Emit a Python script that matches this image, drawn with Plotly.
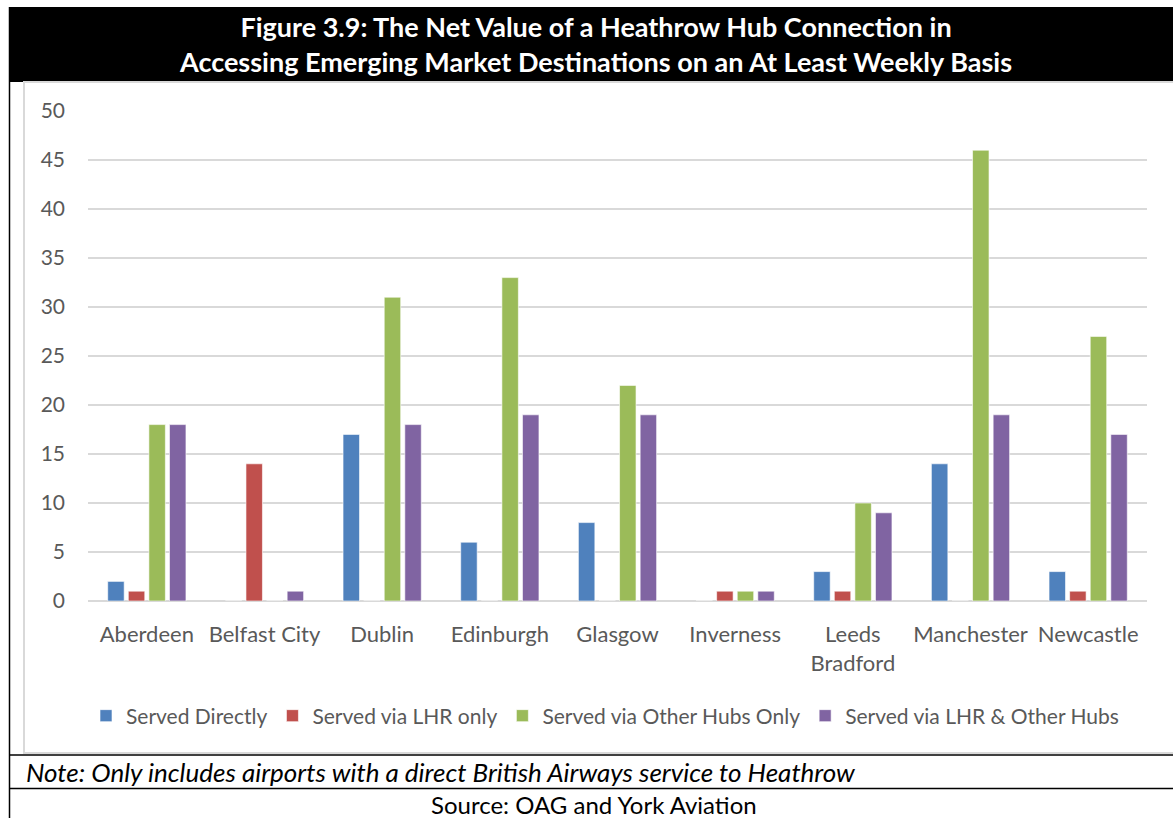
import plotly.graph_objects as go

W, H = 1173, 818

airports = ["Aberdeen", "Belfast City", "Dublin", "Edinburgh", "Glasgow",
            "Inverness", "Leeds<br>Bradford", "Manchester", "Newcastle"]
served_directly = [2, 0, 17, 6, 8, 0, 3, 14, 3]
served_lhr_only = [1, 14, 0, 0, 0, 1, 1, 0, 1]
served_other_hubs = [18, 0, 31, 33, 22, 1, 10, 46, 27]
served_lhr_and_other = [18, 1, 18, 19, 19, 1, 9, 19, 17]

series = [
    ("Served Directly", served_directly, "#4F81BD"),
    ("Served via LHR only", served_lhr_only, "#C0504D"),
    ("Served via Other Hubs Only", served_other_hubs, "#9BBB59"),
    ("Served via LHR & Other Hubs", served_lhr_and_other, "#8064A2"),
]

title_lines = ["Figure 3.9: The Net Value of a Heathrow Hub Connection in",
               "Accessing Emerging Market Destinations on an At Least Weekly Basis"]
note_text = "Note: Only includes airports with a direct British Airways service to Heathrow"
source_text = "Source: OAG and York Aviation"

FONT = "Lato"
GREY = "#595959"


def px(x):
    return x / W


def py(y):
    return 1 - y / H


fig = go.Figure()
for name, vals, col in series:
    fig.add_trace(go.Bar(
        x=airports, y=vals, name=name,
        marker=dict(color=col, line=dict(color="rgba(255,255,255,0.6)", width=1)),
    ))

shapes = [
    # title bar
    dict(type="rect", xref="paper", yref="paper", x0=px(9), x1=1.0,
         y0=py(82), y1=py(7), fillcolor="black", line=dict(width=0), layer="below"),
    # chart frame (light grey)
    dict(type="rect", xref="paper", yref="paper", x0=px(24), x1=px(1180),
         y0=py(753), y1=py(82), fillcolor="rgba(0,0,0,0)",
         line=dict(color="#D9D9D9", width=2), layer="below"),
    # outer left border
    dict(type="line", xref="paper", yref="paper", x0=px(9.5), x1=px(9.5),
         y0=py(7), y1=0, line=dict(color="black", width=1.5)),
    # note row separators
    dict(type="line", xref="paper", yref="paper", x0=px(9), x1=1.0,
         y0=py(755), y1=py(755), line=dict(color="black", width=1.5)),
    dict(type="line", xref="paper", yref="paper", x0=px(9), x1=1.0,
         y0=py(788.5), y1=py(788.5), line=dict(color="black", width=1.5)),
]

annotations = [
    dict(text="<b>" + "<br>".join(title_lines) + "</b>", xref="paper", yref="paper",
         x=px(595), y=py(44), xanchor="center", yanchor="middle", showarrow=False,
         font=dict(family=FONT, size=27, color="white"), align="center"),
    dict(text="<i>" + note_text + "</i>", xref="paper", yref="paper",
         x=px(24), y=py(772), xanchor="left", yanchor="middle", showarrow=False,
         font=dict(family=FONT, size=26, color="black")),
    dict(text=source_text, xref="paper", yref="paper",
         x=px(594), y=py(804), xanchor="center", yanchor="middle", showarrow=False,
         font=dict(family=FONT, size=24, color="black")),
]

fig.update_layout(
    width=W, height=H, autosize=False,
    margin=dict(l=0, r=0, t=0, b=0, pad=0, autoexpand=False),
    paper_bgcolor="white", plot_bgcolor="white",
    barmode="group", bargap=0.3, bargroupgap=0.2,
    font=dict(family=FONT, color=GREY),
    shapes=shapes, annotations=annotations,
    legend=dict(orientation="h", x=px(605), y=py(716), xanchor="center", yanchor="middle",
                font=dict(family=FONT, size=21, color=GREY), itemwidth=30,
                traceorder="normal"),
    xaxis=dict(domain=[px(88), px(1147)], showgrid=False, showline=False,
               automargin=False,
               tickfont=dict(family=FONT, size=22, color=GREY), ticks="",
               ticklabelstandoff=18),
    yaxis=dict(domain=[py(601), py(111)], range=[0, 50], dtick=5,
               automargin=False,
               showgrid=True, gridcolor="#D9D9D9", gridwidth=1.5,
               zeroline=True, zerolinecolor="#D9D9D9", zerolinewidth=2,
               tickfont=dict(family=FONT, size=21, color=GREY), ticks="",
               ticklabelstandoff=22),
)

fig.write_html("out.html")
